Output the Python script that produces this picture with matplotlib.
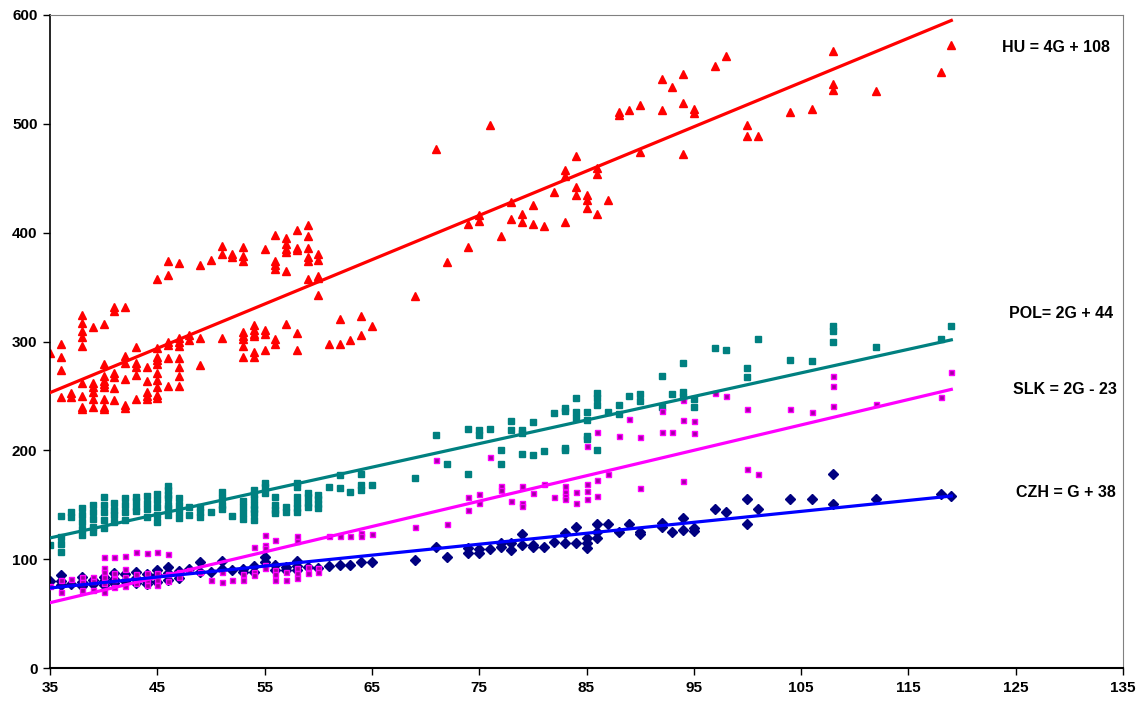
import numpy as np
import matplotlib
matplotlib.use("Agg")
import matplotlib.pyplot as plt

# === DATA ===
# age G -> observed values at that age
hu_pts = {
    35: [289], 36: [298, 286, 274, 249], 37: [253, 249],
    38: [324, 317, 310, 304, 296, 262, 250, 240, 238],
    39: [313, 262, 258, 254, 247, 240],
    40: [316, 279, 268, 264, 261, 258, 247, 240, 238],
    41: [332, 328, 271, 267, 257, 246],
    42: [332, 287, 280, 266, 242, 239],
    43: [295, 280, 277, 269, 247],
    44: [277, 264, 254, 250, 247],
    45: [357, 294, 286, 283, 279, 271, 265, 258, 251, 248],
    46: [374, 361, 300, 297, 285, 259],
    47: [372, 303, 300, 296, 285, 277, 268, 259],
    48: [306, 301], 49: [370, 303, 278], 50: [375],
    51: [388, 380, 303], 52: [380, 378],
    53: [387, 379, 374, 309, 305, 302, 296, 286],
    54: [315, 311, 307, 305, 290, 286],
    55: [385, 311, 307, 292],
    56: [398, 374, 370, 367, 302, 298],
    57: [395, 390, 385, 382, 365, 316],
    58: [402, 386, 384, 308, 292],
    59: [407, 397, 386, 378, 374, 357],
    60: [380, 375, 360, 358, 343],
    61: [298], 62: [321, 298], 63: [301], 64: [323, 306], 65: [314],
    69: [342], 71: [477], 72: [373], 74: [408, 387], 75: [416, 411],
    76: [499], 77: [397], 78: [428, 413], 79: [417, 410], 80: [425, 408],
    81: [406], 82: [437], 83: [458, 452, 410], 84: [470, 442, 435],
    85: [435, 430, 423], 86: [459, 454, 417], 87: [430],
    88: [511, 508], 89: [513], 90: [517, 474], 92: [541, 513], 93: [534],
    94: [546, 519, 472], 95: [514, 510], 97: [553], 98: [562],
    100: [499, 489], 101: [489], 104: [511], 106: [514],
    108: [567, 537, 531], 112: [530], 118: [548], 119: [572],
}

pol_pts = {
    35: [113], 36: [140, 120, 114, 107], 37: [143, 139],
    38: [147, 141, 134, 128, 122], 39: [150, 143, 137, 130, 125],
    40: [157, 150, 143, 136, 129], 41: [152, 145, 141, 134],
    42: [156, 150, 143, 136], 43: [157, 153, 148, 144],
    44: [158, 152, 146, 139], 45: [160, 154, 148, 141, 134],
    46: [167, 164, 159, 156, 150, 147, 141], 47: [156, 150, 143, 138],
    48: [148, 141], 49: [148, 143, 139], 50: [143],
    51: [162, 156, 150, 146], 52: [140], 53: [153, 148, 142, 137],
    54: [164, 160, 155, 150, 146, 142, 136], 55: [170, 166, 161],
    56: [157, 150, 145, 142], 57: [148, 143],
    58: [170, 166, 157, 152, 147, 143], 59: [161, 157, 152, 148],
    60: [159, 155, 151, 147], 61: [166], 62: [177, 165], 63: [162],
    64: [178, 168, 164], 65: [168], 69: [175],
    71: [214], 72: [187], 74: [220, 178], 75: [219, 214], 76: [220],
    77: [200, 187], 78: [227, 219], 79: [219, 216, 197], 80: [226, 196],
    81: [199], 82: [234], 83: [239, 236, 202, 200], 84: [248, 235, 230],
    85: [235, 228, 213, 210], 86: [253, 248, 242, 200], 87: [235],
    88: [242, 233], 89: [250], 90: [252, 245], 92: [268, 240],
    93: [252], 94: [280, 254, 249], 95: [247, 240], 97: [294], 98: [292],
    100: [276, 267], 101: [302], 104: [283], 106: [282],
    108: [314, 310, 300], 112: [295], 118: [302], 119: [314],
}

slk_pts = {
    35: [75], 36: [81, 70], 37: [82], 38: [84, 79, 72], 39: [84, 80, 72],
    40: [102, 92, 88, 84, 78, 70], 41: [102, 87, 82, 74],
    42: [103, 91, 84, 75], 43: [107, 86, 78], 44: [106, 87, 81, 76],
    45: [107, 87, 81, 76], 46: [105, 86, 80], 47: [88, 84], 48: [90],
    49: [88], 50: [81], 51: [88, 79], 52: [81], 53: [86, 81],
    54: [111, 88, 85], 55: [122, 113, 110, 95, 92], 56: [118, 90, 86, 81],
    57: [88, 81], 58: [121, 117, 92, 87, 83], 59: [93, 87], 60: [92, 88],
    61: [121], 62: [121], 63: [121], 64: [124, 121], 65: [123], 69: [130],
    71: [191], 72: [132], 74: [157, 145], 75: [160, 152], 76: [194],
    77: [167, 164], 78: [153], 79: [167, 152, 149], 80: [161], 81: [169],
    82: [157], 83: [167, 162, 158, 155], 84: [162, 152],
    85: [204, 169, 163, 155], 86: [217, 173, 158], 87: [178], 88: [213],
    89: [229], 90: [212, 165], 92: [236, 217], 93: [217],
    94: [246, 228, 172], 95: [227, 216], 97: [253], 98: [250],
    100: [238, 183], 101: [178], 104: [238], 106: [235],
    108: [268, 259, 241], 112: [243], 118: [249], 119: [272],
}

czh_pts = {
    35: [80], 36: [85, 80, 76], 37: [77], 38: [84, 79, 75], 39: [81, 77],
    40: [84, 80, 76], 41: [87, 82, 78], 42: [86, 80], 43: [88, 83, 78],
    44: [86, 80, 77], 45: [90, 85, 79], 46: [93, 87, 81], 47: [89, 83],
    48: [91], 49: [97, 88], 50: [88], 51: [98, 91], 52: [90],
    53: [91, 88], 54: [94, 88], 55: [102, 97], 56: [95, 90], 57: [93, 90],
    58: [98, 94, 90], 59: [93], 60: [92], 61: [94], 62: [95], 63: [95],
    64: [97], 65: [97], 69: [99], 71: [111], 72: [102], 74: [110, 106],
    75: [109, 106], 76: [109], 77: [115, 111], 78: [115, 108],
    79: [123, 113], 80: [113, 111], 81: [111], 82: [116], 83: [124, 115],
    84: [130, 115], 85: [119, 115, 110], 86: [132, 125, 119], 87: [132],
    88: [125], 89: [132], 90: [125, 123], 92: [133, 130], 93: [125],
    94: [138, 127], 95: [129, 126], 97: [146], 98: [143], 100: [155, 132],
    101: [146], 104: [155], 106: [155], 108: [178, 151], 112: [155],
    118: [160], 119: [158],
}

# trend line end points (x = 35 and x = 119)
fit_x = [35, 119]
hu_fit = [253, 595]
pol_fit = [119.5, 301.5]
slk_fit = [60, 256]
czh_fit = [73.5, 158]

labels = ["HU = 4G + 108", "POL= 2G + 44", "SLK = 2G - 23", "CZH = G + 38"]
label_x = [133.8, 134.1, 134.4, 134.3]
label_y = [570, 326, 256, 161]


def flatten(pts):
    xs, ys = [], []
    for x, vals in pts.items():
        for v in vals:
            xs.append(x)
            ys.append(v)
    return np.array(xs), np.array(ys)


plt.rcParams['font.family'] = ['Liberation Sans', 'DejaVu Sans']

fig = plt.figure(figsize=(11.42, 7.02), dpi=100)
ax = fig.add_axes([50 / 1142, 34 / 702, 1073 / 1142, 653 / 702])

x, y = flatten(czh_pts)
ax.plot(x, y, linestyle='none', marker='D', ms=4.8, color='#000080', zorder=2)
x, y = flatten(slk_pts)
ax.plot(x, y, linestyle='none', marker='s', ms=3.6, mfc='#a000a0', mec='#ff00ff', mew=1.0, zorder=3)
x, y = flatten(pol_pts)
ax.plot(x, y, linestyle='none', marker='s', ms=3.8, color='#008080', zorder=2)
x, y = flatten(hu_pts)
ax.plot(x, y, linestyle='none', marker='^', ms=5.2, color='#ff0000', zorder=2)

ax.plot(fit_x, hu_fit, color='#ff0000', lw=2.3, zorder=4)
ax.plot(fit_x, pol_fit, color='#008080', lw=2.3, zorder=4)
ax.plot(fit_x, slk_fit, color='#ff00ff', lw=2.3, zorder=4)
ax.plot(fit_x, czh_fit, color='#0000ff', lw=2.3, zorder=4)

for txt, tx, ty in zip(labels, label_x, label_y):
    ax.text(tx, ty, txt, ha='right', va='center', fontsize=11.5, fontweight='bold')

ax.set_xlim(35, 135)
ax.set_ylim(0, 600)
ax.set_xticks(np.arange(35, 136, 10))
ax.set_yticks(np.arange(0, 601, 100))
ax.tick_params(direction='out', length=5, width=1, pad=4, labelsize=11)
for lab in ax.get_xticklabels() + ax.get_yticklabels():
    lab.set_fontweight('bold')

ax.spines['left'].set_color('black')
ax.spines['bottom'].set_color('black')
ax.spines['left'].set_linewidth(1.2)
ax.spines['bottom'].set_linewidth(1.5)
ax.spines['top'].set_color('#808080')
ax.spines['right'].set_color('#808080')

fig.savefig("out.png", dpi=100)
